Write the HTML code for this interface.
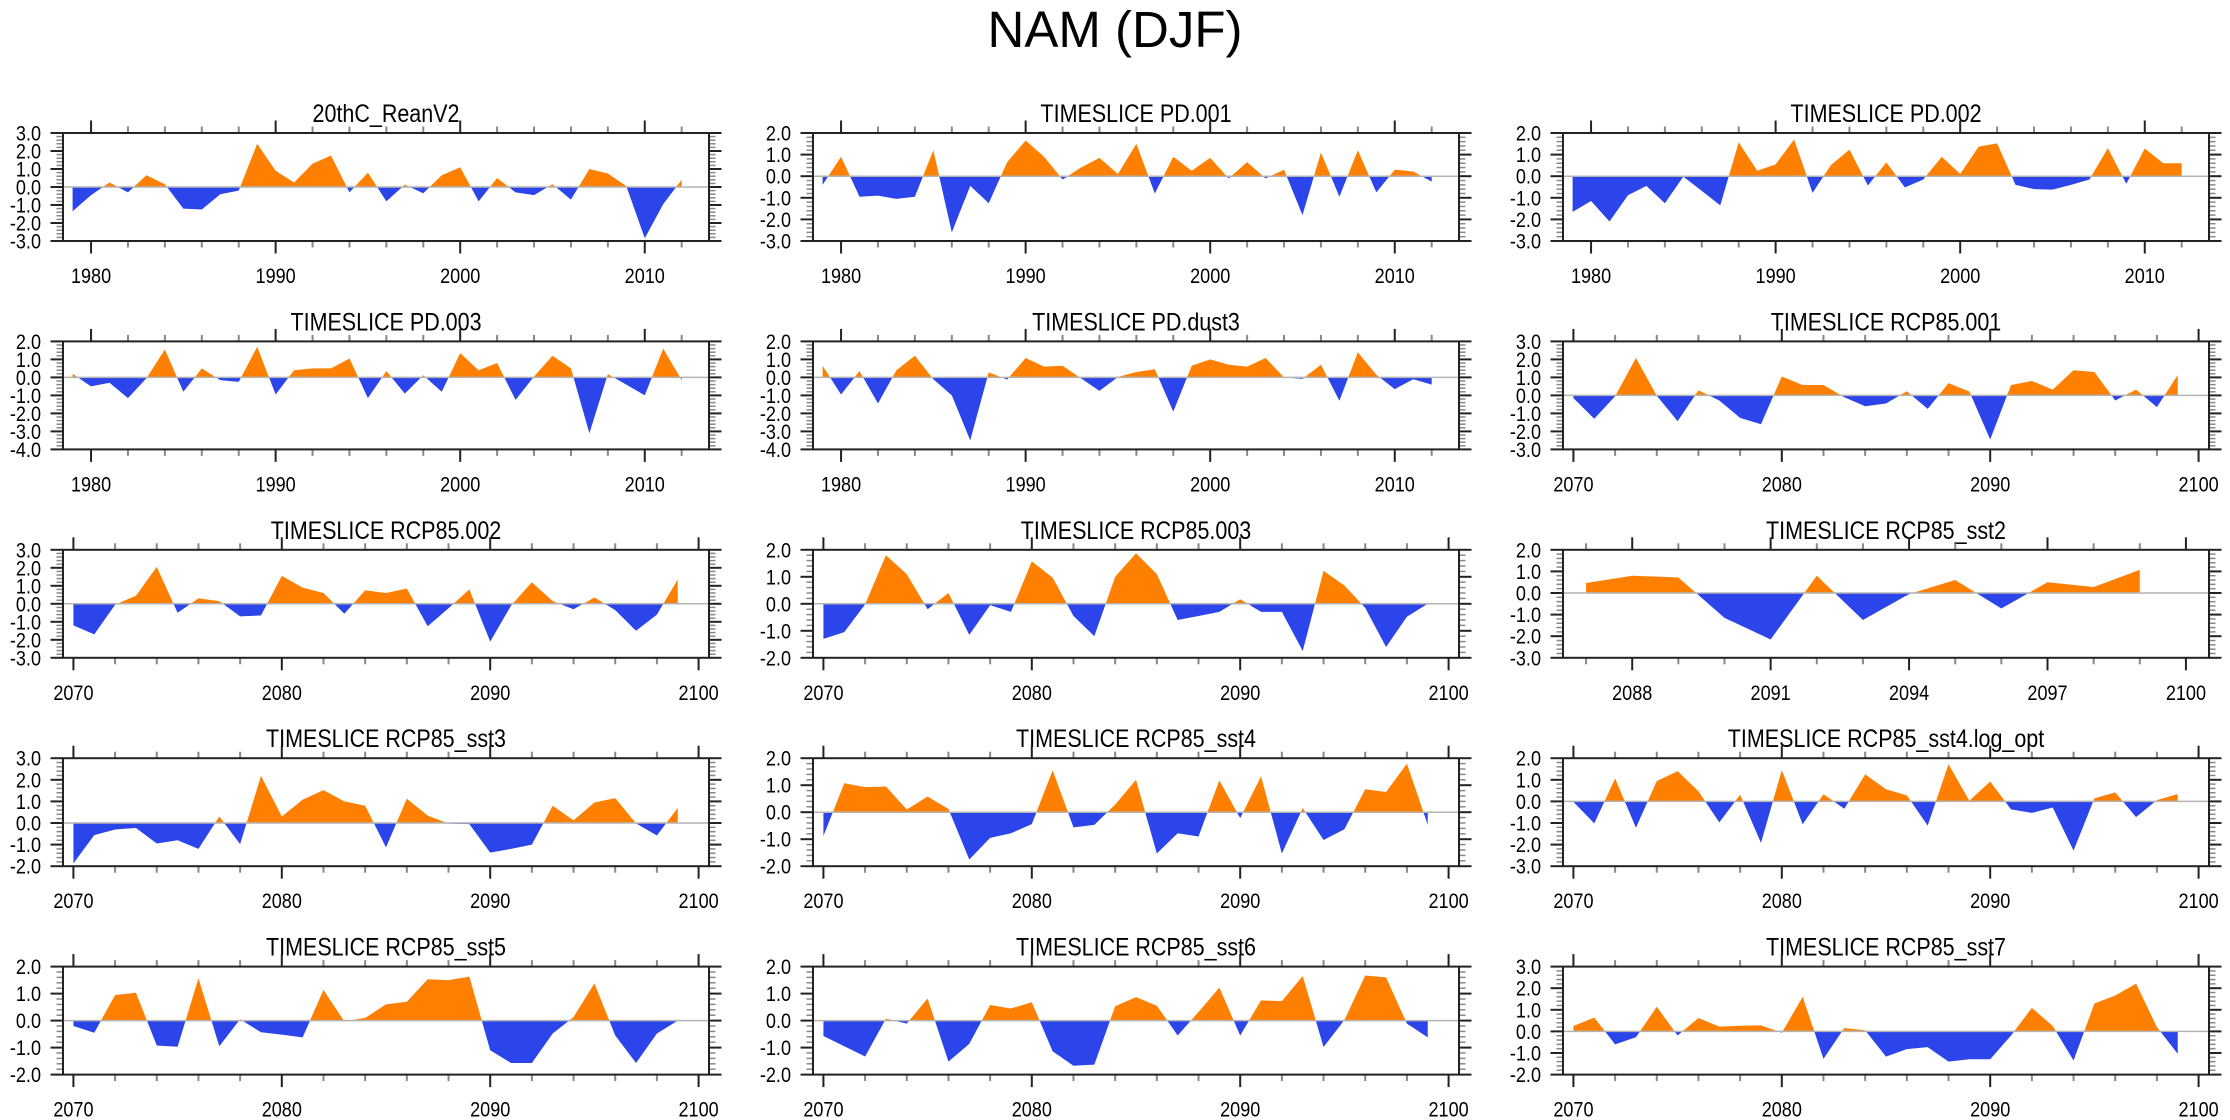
<!DOCTYPE html>
<html><head><meta charset="utf-8"><title>NAM (DJF)</title>
<style>html,body{margin:0;padding:0;background:#fff}svg{display:block}text{font-family:"Liberation Sans",Arial,sans-serif;fill:#000}</style>
</head><body>
<svg id="fig" width="2230" height="1120" viewBox="0 0 2230 1120" xmlns="http://www.w3.org/2000/svg">
<rect width="2230" height="1120" fill="#fff"/>
<text x="1115" y="47" text-anchor="middle" font-size="51">NAM (DJF)</text>
</svg>
<script>
const titles = ["20thC_ReanV2","TIMESLICE PD.001","TIMESLICE PD.002","TIMESLICE PD.003","TIMESLICE PD.dust3","TIMESLICE RCP85.001","TIMESLICE RCP85.002","TIMESLICE RCP85.003","TIMESLICE RCP85_sst2","TIMESLICE RCP85_sst3","TIMESLICE RCP85_sst4","TIMESLICE RCP85_sst4.log_opt","TIMESLICE RCP85_sst5","TIMESLICE RCP85_sst6","TIMESLICE RCP85_sst7"];
const startYears = [1979,1979,1979,1979,1979,2070,2070,2070,2087,2070,2070,2070,2070,2070,2070];
const yMins = [-3,-3,-3,-4,-4,-3,-3,-2,-3,-2,-2,-3,-2,-2,-2];
const yMaxs = [3,2,2,2,2,3,3,2,2,3,2,2,2,2,3];
const xTicksPD = [1980,1990,2000,2010];
const xTicksRCP = [2070,2080,2090,2100];
const xTicksSST2 = [2088,2091,2094,2097,2100];

const v20thC = [-1.35,-0.45,0.25,-0.3,0.65,0.15,-1.2,-1.25,-0.4,-0.2,2.4,0.9,0.25,1.3,1.75,-0.3,0.8,-0.8,0.13,-0.35,0.65,1.1,-0.8,0.5,-0.3,-0.45,0.15,-0.7,1.0,0.75,0.05,-2.85,-0.95,0.4];
const vPD001 = [-0.4,0.9,-0.95,-0.9,-1.05,-0.95,1.2,-2.6,-0.45,-1.25,0.65,1.65,0.9,-0.15,0.4,0.85,0.1,1.5,-0.8,0.9,0.25,0.85,-0.1,0.65,-0.1,0.3,-1.8,1.1,-0.95,1.2,-0.75,0.3,0.22,-0.25];
const vPD002 = [-1.65,-1.15,-2.1,-0.88,-0.45,-1.25,-0.02,-0.68,-1.35,1.57,0.25,0.55,1.7,-0.77,0.52,1.23,-0.43,0.64,-0.52,-0.15,0.9,0.1,1.37,1.52,-0.4,-0.6,-0.62,-0.4,-0.15,1.3,-0.35,1.28,0.6,0.6];
const vPD003 = [0.2,-0.5,-0.3,-1.15,-0.05,1.55,-0.8,0.5,-0.15,-0.25,1.7,-0.95,0.4,0.5,0.5,1.05,-1.15,0.35,-0.9,0.12,-0.8,1.35,0.4,0.8,-1.25,0.05,1.2,0.5,-3.1,0.18,-0.4,-1.0,1.6,-0.15];
const vPDdust3 = [0.65,-0.95,0.35,-1.45,0.4,1.2,-0.1,-1.0,-3.5,0.28,-0.12,1.08,0.6,0.65,-0.05,-0.75,0.02,0.3,0.45,-1.9,0.65,1.0,0.7,0.6,1.08,0.0,-0.08,0.7,-1.3,1.4,0.15,-0.65,-0.1,-0.4];
const vRCP001 = [-0.15,-1.3,-0.05,2.08,-0.02,-1.43,0.28,-0.28,-1.25,-1.6,1.05,0.58,0.58,-0.1,-0.6,-0.45,0.23,-0.75,0.68,0.22,-2.45,0.58,0.8,0.32,1.4,1.3,-0.28,0.32,-0.65,1.13];
const vRCP002 = [-1.2,-1.7,-0.05,0.45,2.05,-0.5,0.3,0.15,-0.7,-0.65,1.55,0.9,0.6,-0.55,0.75,0.6,0.85,-1.25,-0.25,0.8,-2.1,-0.1,1.2,0.15,-0.3,0.35,-0.35,-1.5,-0.6,1.35];
const vRCP003 = [-1.3,-1.05,-0.02,1.8,1.1,-0.2,0.4,-1.15,-0.05,-0.3,1.57,0.97,-0.45,-1.2,1.0,1.87,1.1,-0.6,-0.45,-0.3,0.17,-0.3,-0.3,-1.75,1.22,0.68,-0.15,-1.6,-0.48,0.0];
const vSST2 = [0.46,0.8,0.72,-1.15,-2.15,0.8,-1.25,-0.05,0.6,-0.72,0.5,0.28,1.07];
const vSST3 = [-1.87,-0.56,-0.3,-0.23,-0.95,-0.8,-1.2,0.3,-0.98,2.18,0.3,1.08,1.52,1.0,0.8,-1.13,1.13,0.34,-0.03,-0.05,-1.37,-1.2,-1.0,0.8,0.12,0.95,1.15,-0.02,-0.58,0.7];
const vSST4 = [-0.88,1.07,0.93,0.95,0.1,0.58,0.12,-1.75,-0.95,-0.78,-0.44,1.55,-0.56,-0.47,0.28,1.2,-1.53,-0.78,-0.9,1.18,-0.22,1.33,-1.53,0.15,-1.03,-0.63,0.85,0.75,1.8,-0.47];
const vSST4log = [-0.02,-1.02,1.06,-1.22,0.94,1.4,0.47,-0.97,0.31,-1.92,1.45,-1.06,0.33,-0.34,1.25,0.56,0.28,-1.12,1.72,0.03,0.92,-0.37,-0.53,-0.28,-2.28,0.14,0.42,-0.73,0.06,0.34];
const vSST5 = [-0.2,-0.45,0.95,1.03,-0.92,-0.97,1.57,-0.95,0.05,-0.43,-0.52,-0.62,1.14,-0.03,0.1,0.6,0.7,1.53,1.5,1.63,-1.1,-1.57,-1.57,-0.48,0.13,1.38,-0.55,-1.57,-0.48,0.0];
const vSST6 = [-0.57,-0.95,-1.33,0.07,-0.11,0.82,-1.52,-0.86,0.58,0.45,0.68,-1.14,-1.67,-1.63,0.53,0.87,0.55,-0.55,0.32,1.22,-0.55,0.75,0.72,1.65,-0.98,0.02,1.67,1.6,-0.11,-0.62];
const vSST7 = [0.25,0.64,-0.6,-0.27,1.14,-0.19,0.62,0.22,0.26,0.28,-0.06,1.6,-1.27,0.16,0.05,-1.17,-0.82,-0.73,-1.4,-1.29,-1.29,-0.19,1.09,0.25,-1.35,1.29,1.66,2.21,0.2,-1.04];

const seriesList = [v20thC,vPD001,vPD002,vPD003,vPDdust3,vRCP001,vRCP002,vRCP003,vSST2,vSST3,vSST4,vSST4log,vSST5,vSST6,vSST7];
const panelNames = ["20thc-reanv2","pd-001","pd-002","pd-003","pd-dust3","rcp85-001","rcp85-002","rcp85-003","rcp85-sst2","rcp85-sst3","rcp85-sst4","rcp85-sst4-log-opt","rcp85-sst5","rcp85-sst6","rcp85-sst7"];

const NS = "http://www.w3.org/2000/svg";
const svg = document.getElementById('fig');
const PW = 646, PH = 108;
const LEFTS = [63, 813, 1563];
function mk(tag, attrs, parent){ const e=document.createElementNS(NS,tag); for(const k in attrs) e.setAttribute(k, attrs[k]); parent.appendChild(e); return e; }
function txt(parent, x, y, s, size, anchor){
  const t = document.createElementNS(NS,'text');
  t.setAttribute('transform','translate('+x+','+y+') scale(0.86,1)');
  t.setAttribute('font-size', size);
  t.setAttribute('text-anchor', anchor);
  t.textContent = s;
  parent.appendChild(t);
  return t;
}

seriesList.forEach((vals, i) => {
  const col = i % 3, row = Math.floor(i / 3);
  const L = LEFTS[col], T = 133 + 208.4 * row;
  const isPD = startYears[i] < 2000;
  const isSST2 = startYears[i] === 2087;
  const xmin = isPD ? 1978.48 : (isSST2 ? 2086.5 : 2069.5);
  const xmax = isPD ? 2013.48 : 2100.5;
  const majors = isPD ? xTicksPD : (isSST2 ? xTicksSST2 : xTicksRCP);
  const minorStep = isSST2 ? 1 : 2;
  const ymin = yMins[i], ymax = yMaxs[i];
  const X = yr => L + (yr - xmin) / (xmax - xmin) * PW;
  const Y = v => T + (ymax - v) / (ymax - ymin) * PH;

  const g = mk('g', {}, svg);
  
  

  const tt = txt(g, L + PW/2, T - 11, titles[i], 25, 'middle');
  
  

  const id = 'p' + i;
  const defs = mk('defs', {}, g);
  const y0 = Y(0);
  const c1 = mk('clipPath', {id: id+'a'}, defs); mk('rect', {x:L, y:T, width:PW, height:y0 - T}, c1);
  const c2 = mk('clipPath', {id: id+'b'}, defs); mk('rect', {x:L, y:y0, width:PW, height:T + PH - y0}, c2);
  let pts = X(startYears[i]).toFixed(2) + ',' + y0.toFixed(2) + ' ';
  vals.forEach((v, k) => { pts += X(startYears[i] + k).toFixed(2) + ',' + Y(v).toFixed(2) + ' '; });
  pts += X(startYears[i] + vals.length - 1).toFixed(2) + ',' + y0.toFixed(2);
  const pos = mk('polygon', {points: pts, fill: '#ff8000', 'clip-path': 'url(#'+id+'a)'}, g);
  
  
  const neg = mk('polygon', {points: pts, fill: '#2b45ea', 'clip-path': 'url(#'+id+'b)'}, g);
  
  

  const zl = mk('line', {x1:L, x2:L+PW, y1:y0, y2:y0, stroke:'#b4b4b4', 'stroke-width':1.5}, g);
  
  

  for (let k = Math.round(ymin*5); k <= Math.round(ymax*5); k++) {
    const v = k / 5, y = Y(v);
    const major = (k % 5 === 0);
    const len = major ? 12.5 : 6.5;
    const st = major ? '#222' : '#888';
    const sw = major ? 2 : 1.5;
    mk('line', {x1:L - len, x2:L, y1:y, y2:y, stroke:st, 'stroke-width':sw}, g);
    mk('line', {x1:L + PW, x2:L + PW + len, y1:y, y2:y, stroke:st, 'stroke-width':sw}, g);
    if (major) {
      const lb = txt(g, L - 22, y + 7.5, v.toFixed(1), 21, 'end');
      
      
    }
  }
  for (let yr = Math.ceil(xmin); yr <= Math.floor(xmax); yr++) {
    const major = majors.indexOf(yr) >= 0;
    const minor = !major && ((yr - majors[0]) % minorStep === 0);
    if (!major && !minor) continue;
    const x = X(yr), len = major ? 12.5 : 6.5;
    const st = major ? '#222' : '#888';
    mk('line', {x1:x, x2:x, y1:T + PH, y2:T + PH + len, stroke:st, 'stroke-width':2}, g);
    mk('line', {x1:x, x2:x, y1:T - len, y2:T, stroke:st, 'stroke-width':2}, g);
    if (major) {
      const lb = txt(g, x, T + PH + 42, String(yr), 21, 'middle');
      
      
    }
  }
  const fr = mk('rect', {x:L, y:T, width:PW, height:PH, fill:'none', stroke:'#222', 'stroke-width':2}, g);
  
  
});
</script>
</body></html>
